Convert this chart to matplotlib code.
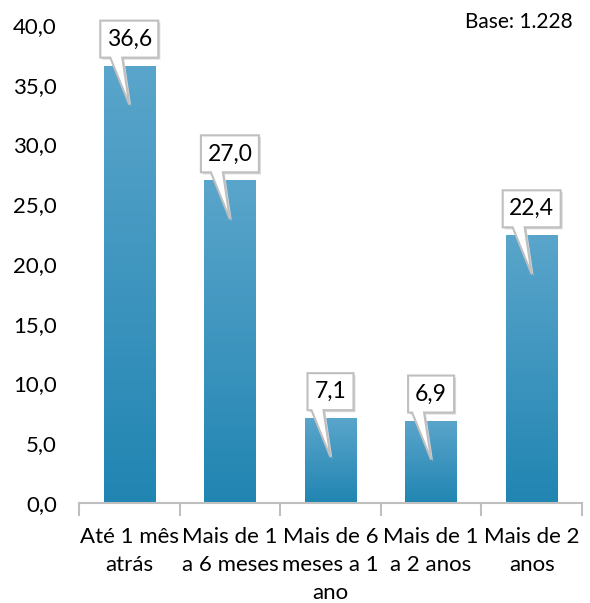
import numpy as np
import matplotlib.pyplot as plt
import matplotlib.transforms as mtransforms
from matplotlib.patches import Polygon, Rectangle
from matplotlib.colors import LinearSegmentedColormap

# dados do gráfico
categorias = ['Até 1 mês\natrás', 'Mais de 1\na 6 meses', 'Mais de 6\nmeses a 1\nano',
              'Mais de 1\na 2 anos', 'Mais de 2\nanos']
valores = [36.6, 27.0, 7.1, 6.9, 22.4]
y_ticks = [0, 5, 10, 15, 20, 25, 30, 35, 40]
base_txt = 'Base: 1.228'

plt.rcParams['font.family'] = ['Lato', 'DejaVu Sans']

W, H = 590, 603
fig = plt.figure(figsize=(W / 100, H / 100), dpi=100)
ax = fig.add_axes([79 / W, 100 / H, (582 - 79) / W, (503 - 25) / H])

x = np.arange(len(valores))
largura = 0.51
barras = ax.bar(x, valores, width=largura, color='none', edgecolor='none')

# gradiente vertical nas barras
cmap = LinearSegmentedColormap.from_list('azul', ['#2185B2', '#5AA5CB'])
grad = np.linspace(0, 1, 256).reshape(-1, 1)
for b in barras:
    x0, w, h = b.get_x(), b.get_width(), b.get_height()
    im = ax.imshow(grad, cmap=cmap, origin='lower', aspect='auto',
                   extent=[x0, x0 + w, 0, h], zorder=2)
    clip = Rectangle((x0, 0), w, h, transform=ax.transData)
    im.set_clip_path(clip)

ax.set_xlim(-0.5, len(valores) - 0.5)
ax.set_ylim(0, 40)
ax.set_yticks(y_ticks)
ax.set_yticklabels([f'{v:.1f}'.replace('.', ',') for v in y_ticks], fontsize=16)
ax.set_xticks(x)
ax.set_xticklabels(categorias, fontsize=16, linespacing=1.5)
ax.set_xticks(np.arange(len(valores) + 1) - 0.5, minor=True)
ax.tick_params(axis='x', which='major', length=0, pad=17)
ax.tick_params(axis='x', which='minor', length=9, color='#BFBFBF', width=1.5)
ax.tick_params(axis='y', length=0, pad=16)
for s in ['top', 'right', 'left']:
    ax.spines[s].set_visible(False)
ax.spines['bottom'].set_color('#BFBFBF')
ax.spines['bottom'].set_linewidth(1.5)

# balões com os valores
for xi, v in zip(x, valores):
    rotulo = f'{v:.1f}'.replace('.', ',')
    px, py = ax.transData.transform((xi, v))
    tr = mtransforms.Affine2D().translate(px, py)
    bw = 12 * len(rotulo) + 10
    pts = [(-bw / 2, 8), (-19, 8), (0, -39), (-7, 8), (bw / 2, 8),
           (bw / 2, 45), (-bw / 2, 45)]
    sombra = Polygon(pts, closed=True, facecolor='#D9D9D9', edgecolor='none',
                     transform=tr + mtransforms.Affine2D().translate(2, -2), zorder=3)
    fig.add_artist(sombra)
    balao = Polygon(pts, closed=True, facecolor='white', edgecolor='#BFBFBF',
                    linewidth=1.5, transform=tr, zorder=4)
    fig.add_artist(balao)
    fig.text(px / W, (py + 26.5) / H, rotulo, ha='center', va='center',
             fontsize=16.5, zorder=5)

fig.text(573 / W, 1 - 22 / H, base_txt, ha='right', va='center', fontsize=15)

fig.savefig('out.png', dpi=100)
